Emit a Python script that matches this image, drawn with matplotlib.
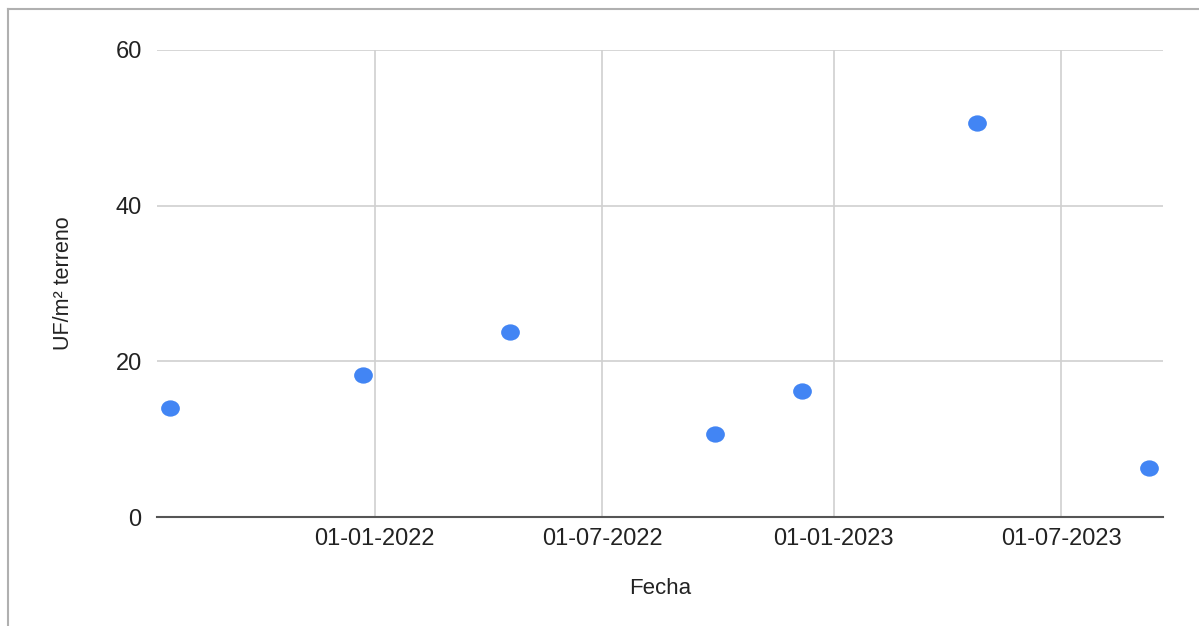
import numpy as np
import matplotlib
matplotlib.use("Agg")
import matplotlib.pyplot as plt
import matplotlib.dates as mdates
import matplotlib.path as mpath
from matplotlib.lines import Line2D
from datetime import datetime

plt.rcParams['font.family'] = ['Liberation Sans', 'DejaVu Sans']

# datos
fechas = ["2021-07-22", "2021-12-23", "2022-04-19", "2022-09-29",
          "2022-12-07", "2023-04-25", "2023-09-09"]
uf_m2 = [14.0, 18.2, 23.8, 10.7, 16.2, 50.6, 6.3]
ticks_x = ["2022-01-01", "2022-07-01", "2023-01-01", "2023-07-01"]
ticks_y = [0, 20, 40, 60]

x = [datetime.strptime(f, "%Y-%m-%d") for f in fechas]
xt = [datetime.strptime(f, "%Y-%m-%d") for f in ticks_x]

fig = plt.figure(figsize=(11.99, 6.26), dpi=100)
ax = fig.add_axes([157/1199, 1 - 517/626, (1163-157)/1199, (517-50)/626])

# marcador eliptico (captura estirada en horizontal)
circ = mpath.Path.unit_circle()
elipse = mpath.Path(circ.vertices * np.array([1.15, 1.0]), circ.codes)

ax.plot(x, uf_m2, linestyle='none', marker=elipse, markersize=13.5,
        color='#4285f4', markeredgewidth=0, zorder=3)

ax.set_xlim(datetime(2021, 7, 12), datetime(2023, 9, 20))
ax.set_ylim(0, 60)
ax.set_xticks(xt)
ax.xaxis.set_major_formatter(mdates.DateFormatter('%d-%m-%Y'))
ax.set_yticks(ticks_y)

ax.grid(True, color='#d0d0d0', linewidth=1.2)
ax.set_axisbelow(True)
for s in ['top', 'right', 'left']:
    ax.spines[s].set_visible(False)
ax.spines['bottom'].set_color('#555555')
ax.spines['bottom'].set_linewidth(1.5)
ax.tick_params(length=0, labelsize=17, labelcolor='#222222')
ax.tick_params(axis='x', pad=8)
ax.tick_params(axis='y', pad=11)

ax.set_xlabel('Fecha', fontsize=16, color='#222222', labelpad=20)
ax.set_ylabel('UF/m² terreno', fontsize=15.5, color='#222222', labelpad=30)

# marco de la captura
fig.add_artist(Line2D([8/1199, 8/1199], [0, 1 - 9/626], transform=fig.transFigure,
                      color='#b0b0b0', linewidth=1.5))
fig.add_artist(Line2D([8/1199, 1], [1 - 9/626, 1 - 9/626], transform=fig.transFigure,
                      color='#b0b0b0', linewidth=1.5))

fig.savefig("out.png", dpi=100)
